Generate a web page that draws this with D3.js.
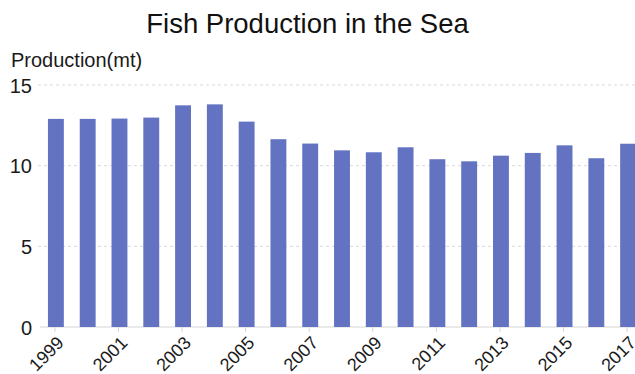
<!DOCTYPE html>
<html>
<head>
<meta charset="utf-8">
<script src="https://cdn.jsdelivr.net/npm/d3@7"></script>
<style>
  html, body { margin: 0; padding: 0; background: #fff; }
  svg { display: block; font-family: "Liberation Sans", Arial, sans-serif; }
</style>
</head>
<body>
<svg id="chart" width="635" height="374"></svg>
<script>
const years = ["1999","2000","2001","2002","2003","2004","2005","2006","2007","2008","2009","2010","2011","2012","2013","2014","2015","2016","2017"];
const production = [12.9, 12.9, 12.92, 12.98, 13.74, 13.8, 12.73, 11.64, 11.37, 10.95, 10.83, 11.14, 10.4, 10.27, 10.62, 10.79, 11.26, 10.46, 11.36];
const yTicks = [0, 5, 10, 15];
const labelYears = years.filter((d, i) => i % 2 === 0);
const titleText = "Fish Production in the Sea";
const yAxisTitle = "Production(mt)";

const svg = d3.select("#chart");
const W = 635, H = 374;

svg.append("rect").attr("width", W).attr("height", H).attr("fill", "#fff");

const x = d3.scaleBand().domain(years).range([40, 644]).paddingInner(0.5).paddingOuter(0.25);
const y = d3.scaleLinear().domain([0, 15]).range([327, 85]);

// gridlines
svg.append("g").selectAll("line").data(yTicks.filter(d => d > 0)).join("line")
  .attr("x1", 38).attr("x2", W)
  .attr("y1", d => y(d)).attr("y2", d => y(d))
  .attr("stroke", "#d9d9d9").attr("stroke-width", 1).attr("stroke-dasharray", "3,3");

// baseline
svg.append("line").attr("x1", 40).attr("x2", W).attr("y1", y(0)).attr("y2", y(0))
  .attr("stroke", "#e3e3e3").attr("stroke-width", 1.5);

// y tick labels
svg.append("g").selectAll("text").data(yTicks).join("text")
  .attr("x", 32).attr("y", d => y(d) + 7.5)
  .attr("text-anchor", "end")
  .attr("font-size", 20).attr("fill", "#1a1a1a")
  .text(d => d);

// bars
svg.append("g").selectAll("rect").data(years).join("rect")
  .attr("x", d => x(d))
  .attr("width", x.bandwidth())
  .attr("y", (d, i) => y(production[i]))
  .attr("height", (d, i) => y(0) - y(production[i]))
  .attr("fill", "#6373c1");

// x ticks
svg.append("g").selectAll("line").data(labelYears).join("line")
  .attr("x1", d => x(d) + x.bandwidth() / 2 - 1)
  .attr("x2", d => x(d) + x.bandwidth() / 2 - 1)
  .attr("y1", y(0)).attr("y2", y(0) + 5)
  .attr("stroke", "#d6d6d6").attr("stroke-width", 1);

// x labels
svg.append("g").selectAll("text").data(labelYears).join("text")
  .attr("transform", d => `translate(${x(d) + x.bandwidth() / 2 + 9},344) rotate(-45)`)
  .attr("text-anchor", "end")
  .attr("font-size", 18).attr("fill", "#1a1a1a")
  .text(d => d);

// title
svg.append("text").attr("x", 307.5).attr("y", 33)
  .attr("text-anchor", "middle").attr("font-size", 27.5).attr("fill", "#111")
  .text(titleText);

// y axis title
svg.append("text").attr("x", 11).attr("y", 67)
  .attr("font-size", 20).attr("fill", "#1a1a1a")
  .text(yAxisTitle);
</script>
</body>
</html>
